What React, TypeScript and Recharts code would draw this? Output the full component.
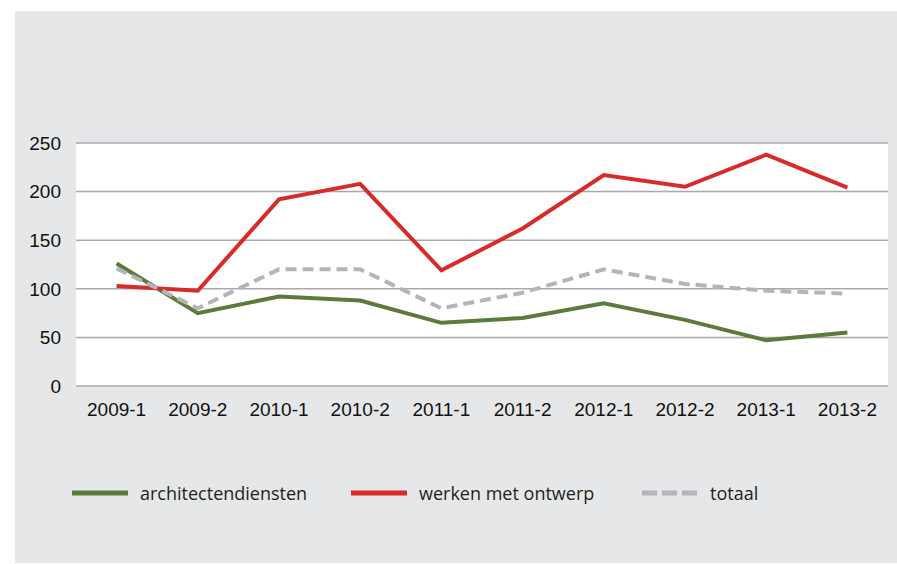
import { CartesianGrid, Line, LineChart, XAxis, YAxis } from "recharts";

const periods = ["2009-1", "2009-2", "2010-1", "2010-2", "2011-1", "2011-2", "2012-1", "2012-2", "2013-1", "2013-2"];
const architectendiensten = [126, 75, 92, 88, 65, 70, 85, 68, 47, 55];
const werkenMetOntwerp = [103, 98, 192, 208, 119, 162, 217, 205, 238, 204];
const totaal = [121, 80, 120, 120, 80, 96, 120, 105, 98, 95];
const yTicks = [0, 50, 100, 150, 200, 250];

const data = periods.map((p, i) => ({
  period: p,
  arch: architectendiensten[i],
  werken: werkenMetOntwerp[i],
  totaal: totaal[i],
}));

const GREEN = "#5b7a3b";
const RED = "#d62b28";
const GREY = "#b3b5b8";
const TEXT = "#111111";

const legendItems = [
  { label: "architectendiensten", color: GREEN, dashed: false, left: 57 },
  { label: "werken met ontwerp", color: RED, dashed: false, left: 336 },
  { label: "totaal", color: GREY, dashed: true, left: 627 },
];

function ChartLegend() {
  return (
    <div style={{ position: "absolute", left: 0, top: 467, width: 882, height: 30 }}>
      {legendItems.map((it) => (
        <div key={it.label} style={{ position: "absolute", left: it.left, top: 0, display: "flex", alignItems: "center", height: 30 }}>
          <svg width={56} height={6}>
            <line x1={0} y1={3} x2={56} y2={3} stroke={it.color} strokeWidth={5} strokeDasharray={it.dashed ? "15 5" : undefined} />
          </svg>
          <span style={{ marginLeft: 12, fontFamily: "'Open Sans', sans-serif", fontSize: 18, color: "#231f20" }}>{it.label}</span>
        </div>
      ))}
    </div>
  );
}

export default function App() {
  return (
    <div style={{ width: 897, height: 563, overflow: "hidden" }}>
      <style>{"html, body { margin: 0; overflow: hidden; }"}</style>
      <div style={{ position: "relative", marginLeft: 15, marginTop: 11, width: 882, height: 552, background: "#e6e7e8" }}>
        <LineChart width={882} height={552} data={data} margin={{ top: 132, right: 9, bottom: 147, left: 0 }}>
          <CartesianGrid horizontal vertical={false} fill="#ffffff" stroke="#a7a9ac" strokeWidth={1.5} />
          <XAxis
            dataKey="period"
            axisLine={false}
            tickLine={false}
            height={30}
            tickMargin={11}
            padding={{ left: 40.6, right: 40.6 }}
            tick={{ fill: TEXT, fontSize: 19, fontFamily: "'Liberation Sans', Arial, sans-serif" }}
          />
          <YAxis
            domain={[0, 250]}
            ticks={yTicks}
            axisLine={false}
            tickLine={false}
            width={61}
            tickMargin={9}
            tick={{ fill: TEXT, fontSize: 19, fontFamily: "'Liberation Sans', Arial, sans-serif" }}
          />
          <Line type="linear" dataKey="arch" name="architectendiensten" stroke={GREEN} strokeWidth={4} dot={false} isAnimationActive={false} />
          <Line type="linear" dataKey="werken" name="werken met ontwerp" stroke={RED} strokeWidth={4} dot={false} isAnimationActive={false} />
          <Line type="linear" dataKey="totaal" name="totaal" stroke={GREY} strokeWidth={4} strokeDasharray="11 6" dot={false} isAnimationActive={false} />
        </LineChart>
        <ChartLegend />
      </div>
    </div>
  );
}
